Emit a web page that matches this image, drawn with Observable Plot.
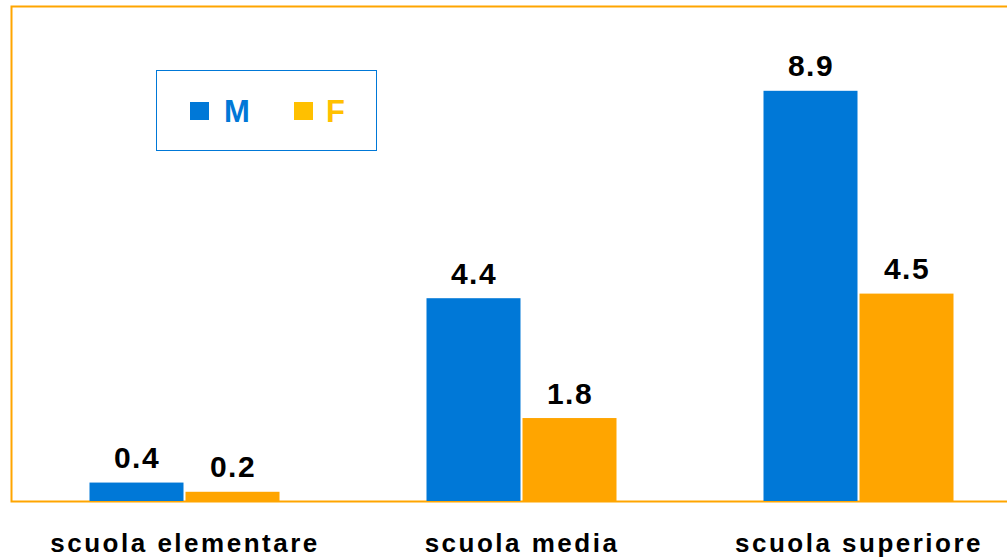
<!DOCTYPE html>
<html>
<head>
<meta charset="utf-8">
<script src="https://cdn.jsdelivr.net/npm/d3@7"></script>
<script src="https://cdn.jsdelivr.net/npm/@observablehq/plot@0.6"></script>
<style>
  html, body { margin: 0; padding: 0; background: #fff; }
  #wrap { position: relative; width: 1007px; height: 560px; overflow: hidden;
          font-family: "Liberation Sans", Arial, Helvetica, sans-serif; }
  #wrap svg { display: block; }
  .chart g[aria-label="x-axis tick label"] text { letter-spacing: 2.5px; }
  .chart g[aria-label="text"] text { letter-spacing: 1.5px; }
  #legend { position: absolute; left: 156px; top: 70px; width: 221px; height: 81px;
            box-sizing: border-box; border: 1px solid #0078d7; background: #fff; }
  #legend .sw { position: absolute; width: 19px; height: 18px; }
  #legend .lb { position: absolute; font-size: 31px; font-weight: bold; line-height: 31px; }
</style>
</head>
<body>
<div id="wrap"></div>
<script>
// Livelli di istruzione e valori per sesso
const categories = ["scuola elementare", "scuola media", "scuola superiore"];
const series = ["M", "F"];
const valuesM = [0.4, 4.4, 8.9];
const valuesF = [0.2, 1.8, 4.5];
const labelsM = ["0.4", "4.4", "8.9"];
const labelsF = ["0.2", "1.8", "4.5"];

const barColors = {M: "#0078d7", F: "#ffa500"};
const legendColors = {M: "#0078d7", F: "#ffc000"};
const offsets = {M: -48, F: 48};
const yMax = 10.74;

const rows = [];
categories.forEach((c, i) => {
  rows.push({category: c, sex: "M", value: valuesM[i], label: labelsM[i]});
  rows.push({category: c, sex: "F", value: valuesF[i], label: labelsF[i]});
});

const marks = [];
for (const s of series) {
  const d = rows.filter(r => r.sex === s);
  marks.push(Plot.barY(d, {
    x: "category", y: "value", fill: barColors[s],
    dx: offsets[s], insetLeft: 121.5, insetRight: 121.5
  }));
  marks.push(Plot.text(d, {
    x: "category", y: "value", text: "label", dx: offsets[s], dy: -15,
    lineAnchor: "bottom", fontSize: 30, fontWeight: "bold", fill: "#000"
  }));
}

const chart = Plot.plot({
  width: 1007,
  height: 560,
  marginTop: 6,
  marginBottom: 59,
  marginLeft: 11,
  marginRight: -4,
  className: "chart",
  style: {fontFamily: "'Liberation Sans', Arial, Helvetica, sans-serif", background: "#fff"},
  x: {type: "band", domain: categories, range: [15.5, 1026.5], padding: 0},
  y: {domain: [0, yMax], axis: null},
  marks: [
    Plot.frame({stroke: "#ffa500", strokeWidth: 2}),
    ...marks,
    Plot.axisX({tickSize: 0, tickPadding: 32, fontSize: 26, fontWeight: "bold",
                fill: "#000", label: null})
  ]
});

const wrap = document.getElementById("wrap");
wrap.appendChild(chart);

// Legenda
const legend = d3.select(wrap).append("div").attr("id", "legend");
const swatchLeft = {M: 33, F: 137};
const textLeft = {M: 67, F: 169};
for (const s of series) {
  legend.append("div").attr("class", "sw")
    .style("left", swatchLeft[s] + "px").style("top", "31px")
    .style("background", legendColors[s]);
  legend.append("div").attr("class", "lb")
    .style("left", textLeft[s] + "px").style("top", "25px")
    .style("color", legendColors[s]).text(s);
}
</script>
</body>
</html>
